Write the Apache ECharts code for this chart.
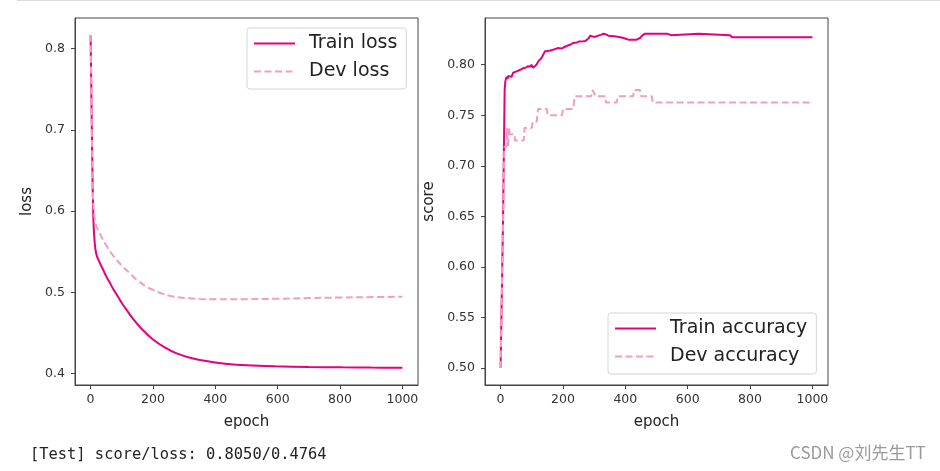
<!DOCTYPE html>
<html><head><meta charset="utf-8">
<script src="https://cdn.jsdelivr.net/npm/echarts@6/dist/echarts.min.js"></script>
<style>html,body{margin:0;padding:0;background:#fff}#c{width:940px;height:471px}</style>
</head><body><div id="c"></div><script>
// ---- tick labels ----
const epochTicks = [0, 200, 400, 600, 800, 1000];
const lossTicks = [0.4, 0.5, 0.6, 0.7, 0.8];
const scoreTicks = [0.50, 0.55, 0.60, 0.65, 0.70, 0.75, 0.80];

// ---- loss curves ----
const trainLossEpochs = [0, 2, 4, 6, 8, 10, 13, 16, 20, 30, 40, 50, 60, 73, 89, 100, 120, 137, 164, 200, 239, 276, 325, 394, 432, 500, 593, 700, 807, 900, 1000];
const trainLossValues = [0.817, 0.76, 0.70, 0.645, 0.605, 0.58, 0.562, 0.552, 0.545, 0.536, 0.528, 0.520, 0.513, 0.504, 0.494, 0.487, 0.476, 0.467, 0.455, 0.442, 0.432, 0.425, 0.419, 0.414, 0.4122, 0.4103, 0.409, 0.4082, 0.4077, 0.4074, 0.4072];
const devLossEpochs = [0, 2, 4, 6, 8, 10, 13, 16, 20, 30, 50, 73, 100, 126, 150, 180, 201, 230, 260, 300, 350, 400, 500, 600, 700, 800, 900, 1000];
const devLossValues = [0.817, 0.76, 0.70, 0.65, 0.615, 0.603, 0.592, 0.586, 0.58, 0.572, 0.558, 0.545, 0.533, 0.5235, 0.515, 0.507, 0.503, 0.4985, 0.4952, 0.4932, 0.492, 0.4915, 0.4917, 0.4922, 0.493, 0.4937, 0.4942, 0.4946];

// ---- accuracy curves ----
const trainAccEpochs = [0, 3, 8, 13, 15, 17, 19, 22, 25, 30, 35, 40, 45, 51, 57, 63, 68, 73, 80, 88, 95, 99, 104, 110, 115, 121, 126, 131, 137, 142, 150, 160, 169, 175, 185, 195, 201, 208, 217, 225, 232, 238, 245, 252, 258, 265, 272, 278, 283, 287, 293, 300, 308, 315, 322, 330, 338, 345, 351, 365, 380, 394, 400, 410, 436, 447, 455, 463, 533, 538, 548, 554, 635, 640, 736, 742, 1000];
const trainAccValues = [0.5, 0.5, 0.65, 0.775, 0.783, 0.786, 0.788, 0.786, 0.789, 0.790, 0.788, 0.792, 0.791, 0.7934, 0.794, 0.795, 0.794, 0.7967, 0.797, 0.7985, 0.798, 0.800, 0.797, 0.7967, 0.800, 0.8033, 0.805, 0.8066, 0.810, 0.8132, 0.8135, 0.814, 0.8149, 0.815, 0.8165, 0.816, 0.8165, 0.818, 0.8192, 0.820, 0.8215, 0.8225, 0.822, 0.823, 0.8225, 0.8231, 0.8235, 0.8248, 0.8265, 0.8287, 0.829, 0.8275, 0.8281, 0.829, 0.8295, 0.8307, 0.830, 0.8287, 0.8281, 0.8281, 0.8275, 0.8264, 0.826, 0.8248, 0.8248, 0.8264, 0.829, 0.8307, 0.8307, 0.8292, 0.8292, 0.8307, 0.8307, 0.8292, 0.8292, 0.8272, 0.8272];
const devAccEpochs = [0, 3, 12, 20, 21, 23, 24, 27, 28, 29, 45, 46, 74, 77, 100, 103, 116, 120, 148, 151, 197, 200, 233, 238, 290, 295, 301, 305, 335, 338, 372, 376, 425, 429, 447, 451, 485, 488, 1000];
const devAccValues = [0.5, 0.5, 0.71875, 0.71875, 0.7375, 0.7375, 0.71875, 0.71875, 0.7375, 0.73125, 0.73125, 0.725, 0.725, 0.7375, 0.7375, 0.74375, 0.74375, 0.75625, 0.75625, 0.75, 0.75, 0.75625, 0.75625, 0.76875, 0.76875, 0.775, 0.775, 0.76875, 0.76875, 0.7625, 0.7625, 0.76875, 0.76875, 0.775, 0.775, 0.76875, 0.76875, 0.7625, 0.7625];

const TRAIN_COLOR = '#e4007f';
const DEV_COLOR = '#f19ec2';
const pairs = (xs, ys) => xs.map((x, i) => [x, ys[i]]);

const chart = echarts.init(document.getElementById('c'));

function xAxisFor(gi) {
  return {
    type: 'value', gridIndex: gi, min: -50, max: 1050,
    axisLine: { show: true, onZero: false, lineStyle: { color: '#444', width: 1 } },
    axisTick: { show: true, length: 4, lineStyle: { color: '#444' }, customValues: epochTicks },
    axisLabel: { customValues: epochTicks, fontSize: 12.5, color: '#333', margin: 8, fontFamily: 'DejaVu Sans',
      formatter: v => String(v) },
    splitLine: { show: false },
    name: 'epoch', nameLocation: 'middle', nameGap: 30,
    nameTextStyle: { fontSize: 15, color: '#222', fontFamily: 'DejaVu Sans' }
  };
}
function yAxisFor(gi, min, max, ticks, dec, name, gap) {
  return {
    type: 'value', gridIndex: gi, min: min, max: max,
    axisLine: { show: true, onZero: false, lineStyle: { color: '#444', width: 1 } },
    axisTick: { show: true, length: 4, lineStyle: { color: '#444' }, customValues: ticks },
    axisLabel: { customValues: ticks, fontSize: 12.5, color: '#333', margin: 10, fontFamily: 'DejaVu Sans',
      formatter: v => v.toFixed(dec) },
    splitLine: { show: false },
    name: name, nameLocation: 'middle', nameGap: gap,
    nameTextStyle: { fontSize: 15, color: '#222', fontFamily: 'DejaVu Sans' }
  };
}
const legendCommon = {
  orient: 'vertical', itemWidth: 41, itemHeight: 14, itemGap: 9,
  padding: [6, 9, 8, 6], borderColor: '#d5d5d5', borderWidth: 1, borderRadius: 3,
  backgroundColor: 'rgba(255,255,255,0.85)', selectedMode: false,
  itemStyle: { opacity: 0, color: 'transparent', borderWidth: 0 },
  textStyle: { fontSize: 19, color: '#222', fontFamily: 'DejaVu Sans', padding: [0, 0, 0, 9] }
};

chart.setOption({
  animation: false,
  textStyle: { fontFamily: 'DejaVu Sans' },
  grid: [
    { left: 75, top: 18, width: 343, height: 367, show: true, borderColor: '#444', borderWidth: 1 },
    { left: 485, top: 18, width: 343, height: 367, show: true, borderColor: '#444', borderWidth: 1 }
  ],
  xAxis: [xAxisFor(0), xAxisFor(1)],
  yAxis: [
    yAxisFor(0, 0.386, 0.8378, lossTicks, 1, 'loss', 40),
    yAxisFor(1, 0.4832, 0.8462, scoreTicks, 2, 'score', 48)
  ],
  legend: [
    Object.assign({}, legendCommon, { data: ['Train loss', 'Dev loss'], left: 247, top: 28 }),
    Object.assign({}, legendCommon, { data: ['Train accuracy', 'Dev accuracy'], left: 608, top: 313 })
  ],
  series: [
    { name: 'Train loss', type: 'line', xAxisIndex: 0, yAxisIndex: 0, data: pairs(trainLossEpochs, trainLossValues),
      symbol: 'none', smooth: 0.4, lineStyle: { color: TRAIN_COLOR, width: 2 }, itemStyle: { color: TRAIN_COLOR } },
    { name: 'Dev loss', type: 'line', xAxisIndex: 0, yAxisIndex: 0, data: pairs(devLossEpochs, devLossValues),
      symbol: 'none', smooth: 0.4, lineStyle: { color: DEV_COLOR, width: 2, type: [7, 3.5] }, itemStyle: { color: DEV_COLOR } },
    { name: 'Train accuracy', type: 'line', xAxisIndex: 1, yAxisIndex: 1, data: pairs(trainAccEpochs, trainAccValues),
      symbol: 'none', lineStyle: { color: TRAIN_COLOR, width: 2 }, itemStyle: { color: TRAIN_COLOR } },
    { name: 'Dev accuracy', type: 'line', xAxisIndex: 1, yAxisIndex: 1, data: pairs(devAccEpochs, devAccValues),
      symbol: 'none', lineStyle: { color: DEV_COLOR, width: 2, type: [7, 3.5] }, itemStyle: { color: DEV_COLOR } }
  ],
  graphic: [
    { type: 'rect', left: 17, top: 0, shape: { width: 923, height: 1 }, style: { fill: '#dedede' }, silent: true },
    { type: 'text', left: 30, top: 447, style: { text: '[Test] score/loss: 0.8050/0.4764', font: '15.4px "DejaVu Sans Mono"', fill: '#222' } },
    { type: 'text', left: 790, top: 444, style: { text: 'CSDN @刘先生TT', font: '17px "Noto Sans CJK SC"', fill: '#9a9a9a' } }
  ]
});
</script></body></html>
